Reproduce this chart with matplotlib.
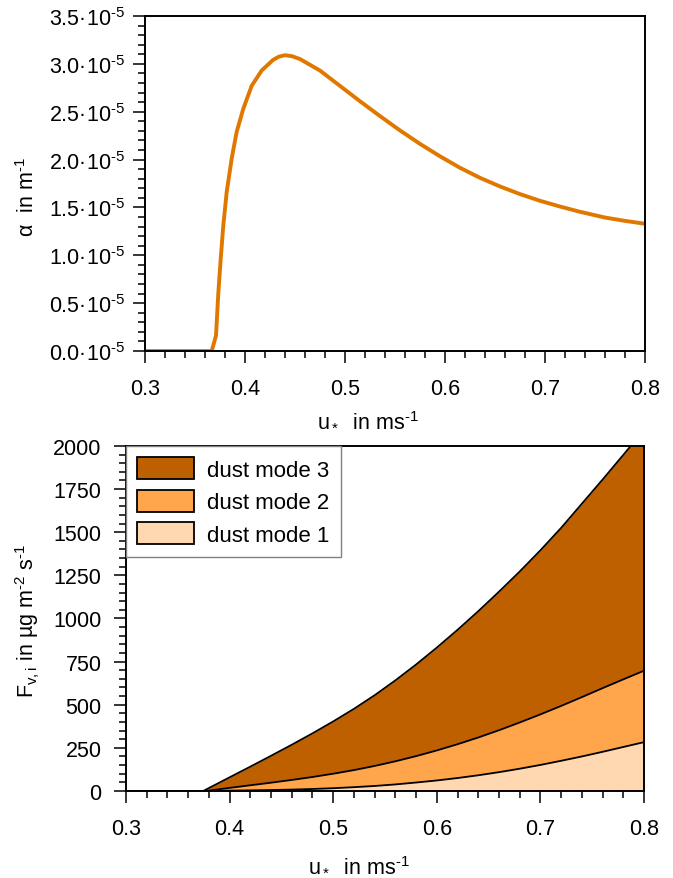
import numpy as np
import matplotlib
matplotlib.use("Agg")
import matplotlib.pyplot as plt
from matplotlib.ticker import MultipleLocator, FuncFormatter
from matplotlib.patches import Patch

plt.rcParams['font.family'] = ['Liberation Sans', 'DejaVu Sans']
plt.rcParams['mathtext.fontset'] = 'custom'
plt.rcParams['mathtext.rm'] = 'Liberation Sans'
plt.rcParams['mathtext.it'] = 'Liberation Sans:italic'
plt.rcParams['mathtext.default'] = 'regular'

HY = '\u2010'  # short hyphen for exponents, as in the original

# top panel: alpha (1/m) against friction velocity u* (m/s)
u_alpha = [0.30, 0.3667, 0.371, 0.3733, 0.3757, 0.3783, 0.3817, 0.3867,
           0.3917, 0.3983, 0.4067, 0.4167, 0.428, 0.434, 0.44, 0.447, 0.455,
           0.475, 0.495, 0.515, 0.535, 0.555, 0.575, 0.595, 0.615, 0.635,
           0.655, 0.675, 0.695, 0.715, 0.735, 0.76, 0.78, 0.80]
alpha = np.array([0.0, 0.0, 0.16, 0.60, 0.96, 1.31, 1.66, 2.01,
                  2.29, 2.53, 2.77, 2.93, 3.04, 3.075, 3.09, 3.08, 3.05,
                  2.93, 2.77, 2.61, 2.455, 2.305, 2.165, 2.035, 1.915, 1.81,
                  1.72, 1.64, 1.57, 1.51, 1.455, 1.395, 1.36, 1.33]) * 1e-5

# bottom panel: stacked vertical dust flux (ug m-2 s-1), cumulative tops
u_flux = [0.30, 0.3746, 0.38, 0.40, 0.42, 0.44, 0.46, 0.48, 0.50, 0.52, 0.54,
          0.56, 0.58, 0.60, 0.62, 0.64, 0.66, 0.68, 0.70, 0.72, 0.74, 0.76,
          0.78, 0.80]
top_mode1 = [0, 0, 0.3, 2, 3.5, 5.5, 8, 11.5, 16, 22, 29, 38, 49, 61, 75, 91,
             109, 129, 151, 175, 200, 227, 255, 283]
top_mode2 = [0, 0, 2, 18, 33, 48, 64, 81, 100, 121, 145, 172, 202, 235, 271,
             310, 352, 397, 444, 493, 544, 596, 647, 697]
top_mode3 = [0, 0, 17, 79, 141, 204, 268, 334, 403, 476, 555, 641, 733, 831,
             934, 1042, 1155, 1272, 1395, 1525, 1665, 1805, 1948, 2092]

labels = ['dust mode 3', 'dust mode 2', 'dust mode 1']
colors = ['#bf6000', '#ffa54c', '#ffd8b2']

fs = 15.5
fig = plt.figure(figsize=(6.73, 8.79), dpi=100)
ax1 = fig.add_axes([0.2155, 0.5995, 0.7425, 0.3812])
ax2 = fig.add_axes([0.1872, 0.0990, 0.7697, 0.3925])


def style(ax):
    for s in ax.spines.values():
        s.set_linewidth(1.4)
    ax.tick_params(which='both', direction='out', top=False, right=False,
                   labelsize=fs, width=1.1)
    ax.tick_params(which='major', length=8.5)
    ax.tick_params(which='minor', length=5)
    ax.xaxis.set_major_locator(MultipleLocator(0.1))
    ax.xaxis.set_minor_locator(MultipleLocator(0.02))
    ax.set_xlim(0.3, 0.8)
    ax.xaxis.set_major_formatter(FuncFormatter(lambda v, p: f"{v:.1f}"))
    ax.tick_params(axis='x', which='major', pad=11)


# --- top
ax1.plot(u_alpha, alpha, color='#e07800', lw=2.8, solid_joinstyle='round')
style(ax1)
ax1.set_ylim(0, 3.5e-5)
ax1.yaxis.set_major_locator(MultipleLocator(0.5e-5))
ax1.yaxis.set_minor_locator(MultipleLocator(0.1e-5))
ax1.yaxis.set_major_formatter(
    FuncFormatter(lambda v, p: f"{v/1e-5:.1f}·10$^{{{HY}5}}$"))
ax1.tick_params(axis='y', which='major', pad=6)
ax1.set_xlabel(f"u$_*$  in ms$^{{{HY}1}}$", fontsize=fs, va='center')
ax1.xaxis.set_label_coords(0.446, -0.206)
ax1.set_ylabel(f"α  in m$^{{{HY}1}}$", fontsize=fs, va='center')
ax1.yaxis.set_label_coords(-0.236, 0.463)

# --- bottom
ax2.fill_between(u_flux, top_mode2, top_mode3, color=colors[0], lw=0)
ax2.fill_between(u_flux, top_mode1, top_mode2, color=colors[1], lw=0)
ax2.fill_between(u_flux, 0, top_mode1, color=colors[2], lw=0)
for t in (top_mode1, top_mode2, top_mode3):
    ax2.plot(u_flux, t, color='black', lw=1.3)
style(ax2)
ax2.set_ylim(0, 2000)
ax2.yaxis.set_major_locator(MultipleLocator(250))
ax2.yaxis.set_minor_locator(MultipleLocator(50))
ax2.tick_params(axis='y', which='major', pad=9)
ax2.set_xlabel(f"u$_*$  in ms$^{{{HY}1}}$", fontsize=fs, va='center')
ax2.xaxis.set_label_coords(0.45, -0.215)
ax2.set_ylabel(f"F$_{{v,i}}$ in µg m$^{{{HY}2}}$ s$^{{{HY}1}}$",
               fontsize=fs, va='center')
ax2.yaxis.set_label_coords(-0.189, 0.496)

handles = [Patch(facecolor=c, edgecolor='black', lw=1.3) for c in colors]
leg = ax2.legend(handles, labels, loc='upper left', bbox_to_anchor=(0, 1),
                 borderaxespad=0, fontsize=16, fancybox=False, framealpha=1,
                 edgecolor='#808080', handlelength=2.55, handleheight=1.15,
                 labelspacing=0.4, handletextpad=0.6, borderpad=0.5)
leg.get_frame().set_linewidth(1.0)

fig.savefig('out.png', dpi=100)
